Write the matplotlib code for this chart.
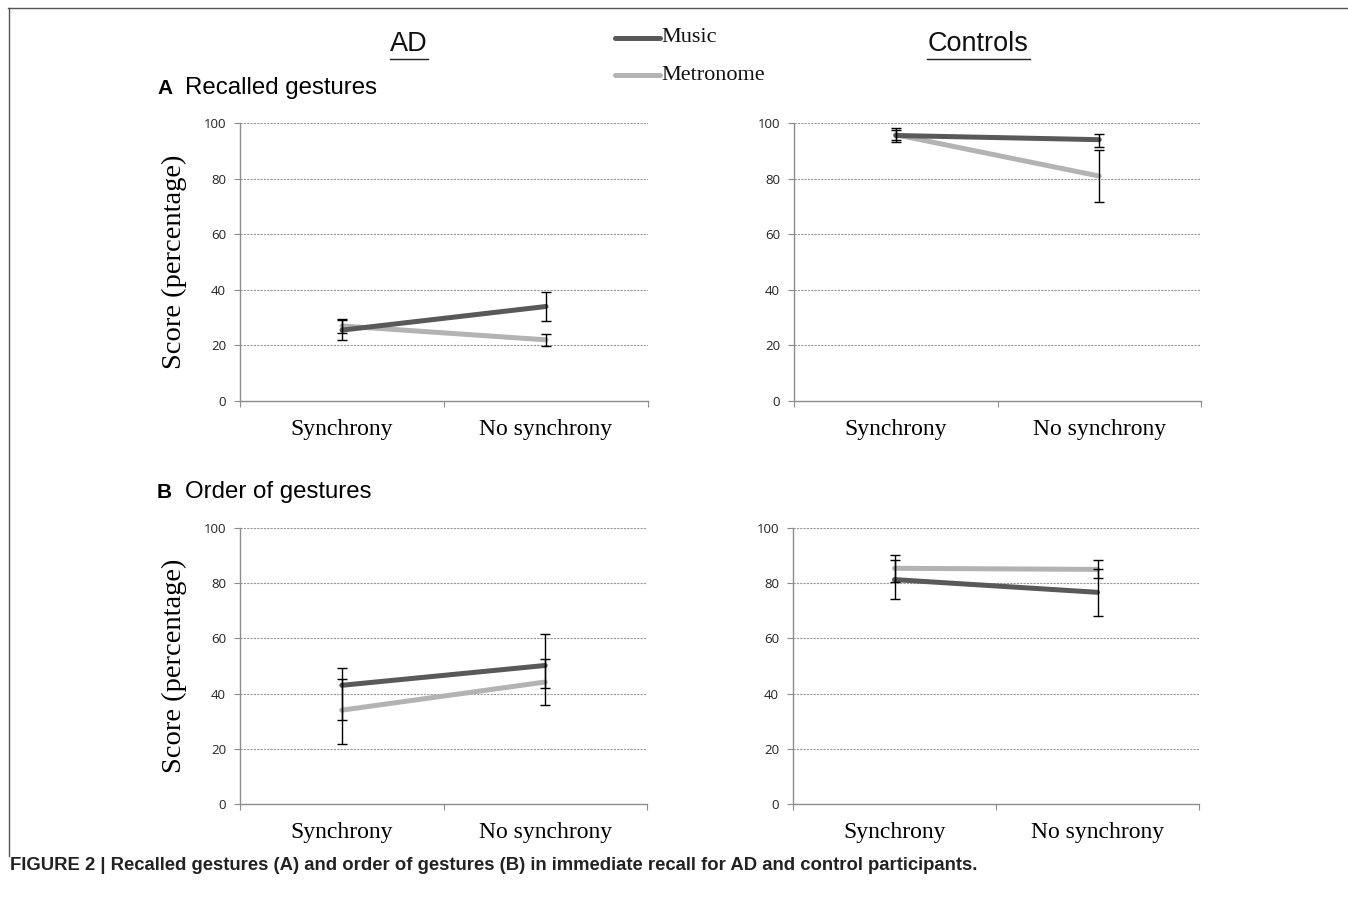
import matplotlib
matplotlib.use("Agg")
import matplotlib.pyplot as plt
from matplotlib.lines import Line2D

# ---- data ----
categories = ["Synchrony", "No synchrony"]
series = ["Music", "Metronome"]

# Panel A: recalled gestures
A_AD_music = [25.5, 34.0]
A_AD_music_lo = [3.5, 5.3]
A_AD_music_hi = [3.5, 5.1]
A_AD_metro = [27.0, 22.0]
A_AD_metro_lo = [2.5, 2.2]
A_AD_metro_hi = [2.5, 2.0]

A_CT_music = [95.5, 94.0]
A_CT_music_lo = [2.5, 2.5]
A_CT_music_hi = [2.8, 2.2]
A_CT_metro = [95.8, 80.9]
A_CT_metro_lo = [2.0, 9.4]
A_CT_metro_hi = [1.8, 9.3]

# Panel B: order of gestures
B_AD_music = [43.0, 50.2]
B_AD_music_lo = [12.4, 8.3]
B_AD_music_hi = [6.4, 11.5]
B_AD_metro = [34.0, 44.2]
B_AD_metro_lo = [12.4, 8.4]
B_AD_metro_hi = [11.4, 8.5]

B_CT_music = [81.3, 76.7]
B_CT_music_lo = [7.1, 8.5]
B_CT_music_hi = [7.1, 8.5]
B_CT_metro = [85.4, 85.0]
B_CT_metro_lo = [4.8, 3.2]
B_CT_metro_hi = [4.8, 3.3]

yticks = [0, 20, 40, 60, 80, 100]

C_MUSIC = "#595959"
C_METRO = "#b3b3b3"
AX_GRAY = "#8c8c8c"

W, H = 1348, 917
fig = plt.figure(figsize=(W / 100, H / 100), dpi=100)


def px_axes(left, right, top, bottom):
    return fig.add_axes([left / W, 1 - bottom / H, (right - left) / W, (bottom - top) / H])


def draw_panel(ax, music, mlo, mhi, metro, tlo, thi, ylabel=True):
    x = [0.5, 1.5]
    ax.set_xlim(0, 2)
    ax.set_ylim(0, 100)
    for y in yticks[1:]:
        ax.axhline(y, color="#9a9a9a", lw=0.8, ls=(0, (2, 1)), zorder=0)
    ax.errorbar(x, music, yerr=[mlo, mhi], fmt="none", ecolor="black",
                elinewidth=1.0, capsize=3.5, capthick=1.0, zorder=4)
    ax.errorbar(x, metro, yerr=[tlo, thi], fmt="none", ecolor="black",
                elinewidth=1.0, capsize=3.5, capthick=1.0, zorder=4)
    ax.plot(x, music, color=C_MUSIC, lw=3.6, solid_capstyle="round", zorder=3)
    ax.plot(x, metro, color=C_METRO, lw=3.6, solid_capstyle="round", zorder=2)
    for s in ["top", "right"]:
        ax.spines[s].set_visible(False)
    for s in ["left", "bottom"]:
        ax.spines[s].set_color(AX_GRAY)
        ax.spines[s].set_linewidth(1.0)
    ax.set_yticks(yticks)
    ax.set_yticklabels([str(v) for v in yticks], fontsize=9.5, family="Open Sans", color="#222222")
    ax.tick_params(axis="y", length=4, color=AX_GRAY, pad=6)
    ax.set_xticks([0, 1, 2])
    ax.set_xticklabels([])
    ax.tick_params(axis="x", length=4, color=AX_GRAY)
    for xi, lab in zip(x, categories):
        ax.text(xi, -6.5, lab, transform=ax.transData,
                ha="center", va="top", fontsize=17, family="Liberation Serif")
    if ylabel:
        ax.set_ylabel("Score (percentage)", fontsize=20.5, family="Liberation Serif", labelpad=12)


axA1 = px_axes(240, 648, 123, 401)
axA2 = px_axes(794, 1201, 123, 401)
axB1 = px_axes(240, 647, 528, 804)
axB2 = px_axes(793, 1199, 528, 804)

draw_panel(axA1, A_AD_music, A_AD_music_lo, A_AD_music_hi, A_AD_metro, A_AD_metro_lo, A_AD_metro_hi)
draw_panel(axA2, A_CT_music, A_CT_music_lo, A_CT_music_hi, A_CT_metro, A_CT_metro_lo, A_CT_metro_hi, ylabel=False)
draw_panel(axB1, B_AD_music, B_AD_music_lo, B_AD_music_hi, B_AD_metro, B_AD_metro_lo, B_AD_metro_hi)
draw_panel(axB2, B_CT_music, B_CT_music_lo, B_CT_music_hi, B_CT_metro, B_CT_metro_lo, B_CT_metro_hi, ylabel=False)


def fx(px):
    return px / W


def fy(py):
    return 1 - py / H


# group headings (underlined)
for txt, cx in [("AD", 409), ("Controls", 978)]:
    fig.text(fx(cx), fy(44), txt, ha="center", va="center", fontsize=19.5,
             family="Liberation Sans", color="#111111")
fig.add_artist(Line2D([fx(390), fx(428)], [fy(59), fy(59)], color="#222222", lw=1.0))
fig.add_artist(Line2D([fx(927), fx(1030)], [fy(59), fy(59)], color="#222222", lw=1.0))

# legend
for name, col, py in [(series[0], C_MUSIC, 38), (series[1], C_METRO, 75)]:
    fig.add_artist(Line2D([fx(615), fx(660)], [fy(py), fy(py)], color=col, lw=3.6,
                          solid_capstyle="round"))
    fig.text(fx(661), fy(py), name, ha="left", va="center", fontsize=16,
             family="Liberation Serif", color="#111111")

# panel titles
fig.text(fx(157), fy(88), "A", ha="left", va="center", fontsize=15, weight="bold",
         family="Liberation Sans")
fig.text(fx(185), fy(88), "Recalled gestures", ha="left", va="center", fontsize=17.3,
         family="Liberation Sans")
fig.text(fx(157), fy(492), "B", ha="left", va="center", fontsize=15, weight="bold",
         family="Liberation Sans")
fig.text(fx(185), fy(492), "Order of gestures", ha="left", va="center", fontsize=17.3,
         family="Liberation Sans")

# frame
fig.add_artist(Line2D([fx(8), fx(1348)], [fy(7.5), fy(7.5)], color="#555555", lw=1.0))
fig.add_artist(Line2D([fx(8.5), fx(8.5)], [fy(7.5), fy(856)], color="#555555", lw=1.0))

# caption
fig.text(fx(10), fy(866), "FIGURE 2 | Recalled gestures (A) and order of gestures (B) in immediate recall for AD and control participants.",
         ha="left", va="center", fontsize=13.3, weight="bold", family="Liberation Sans",
         color="#222222")

fig.savefig("out.png", dpi=100)
